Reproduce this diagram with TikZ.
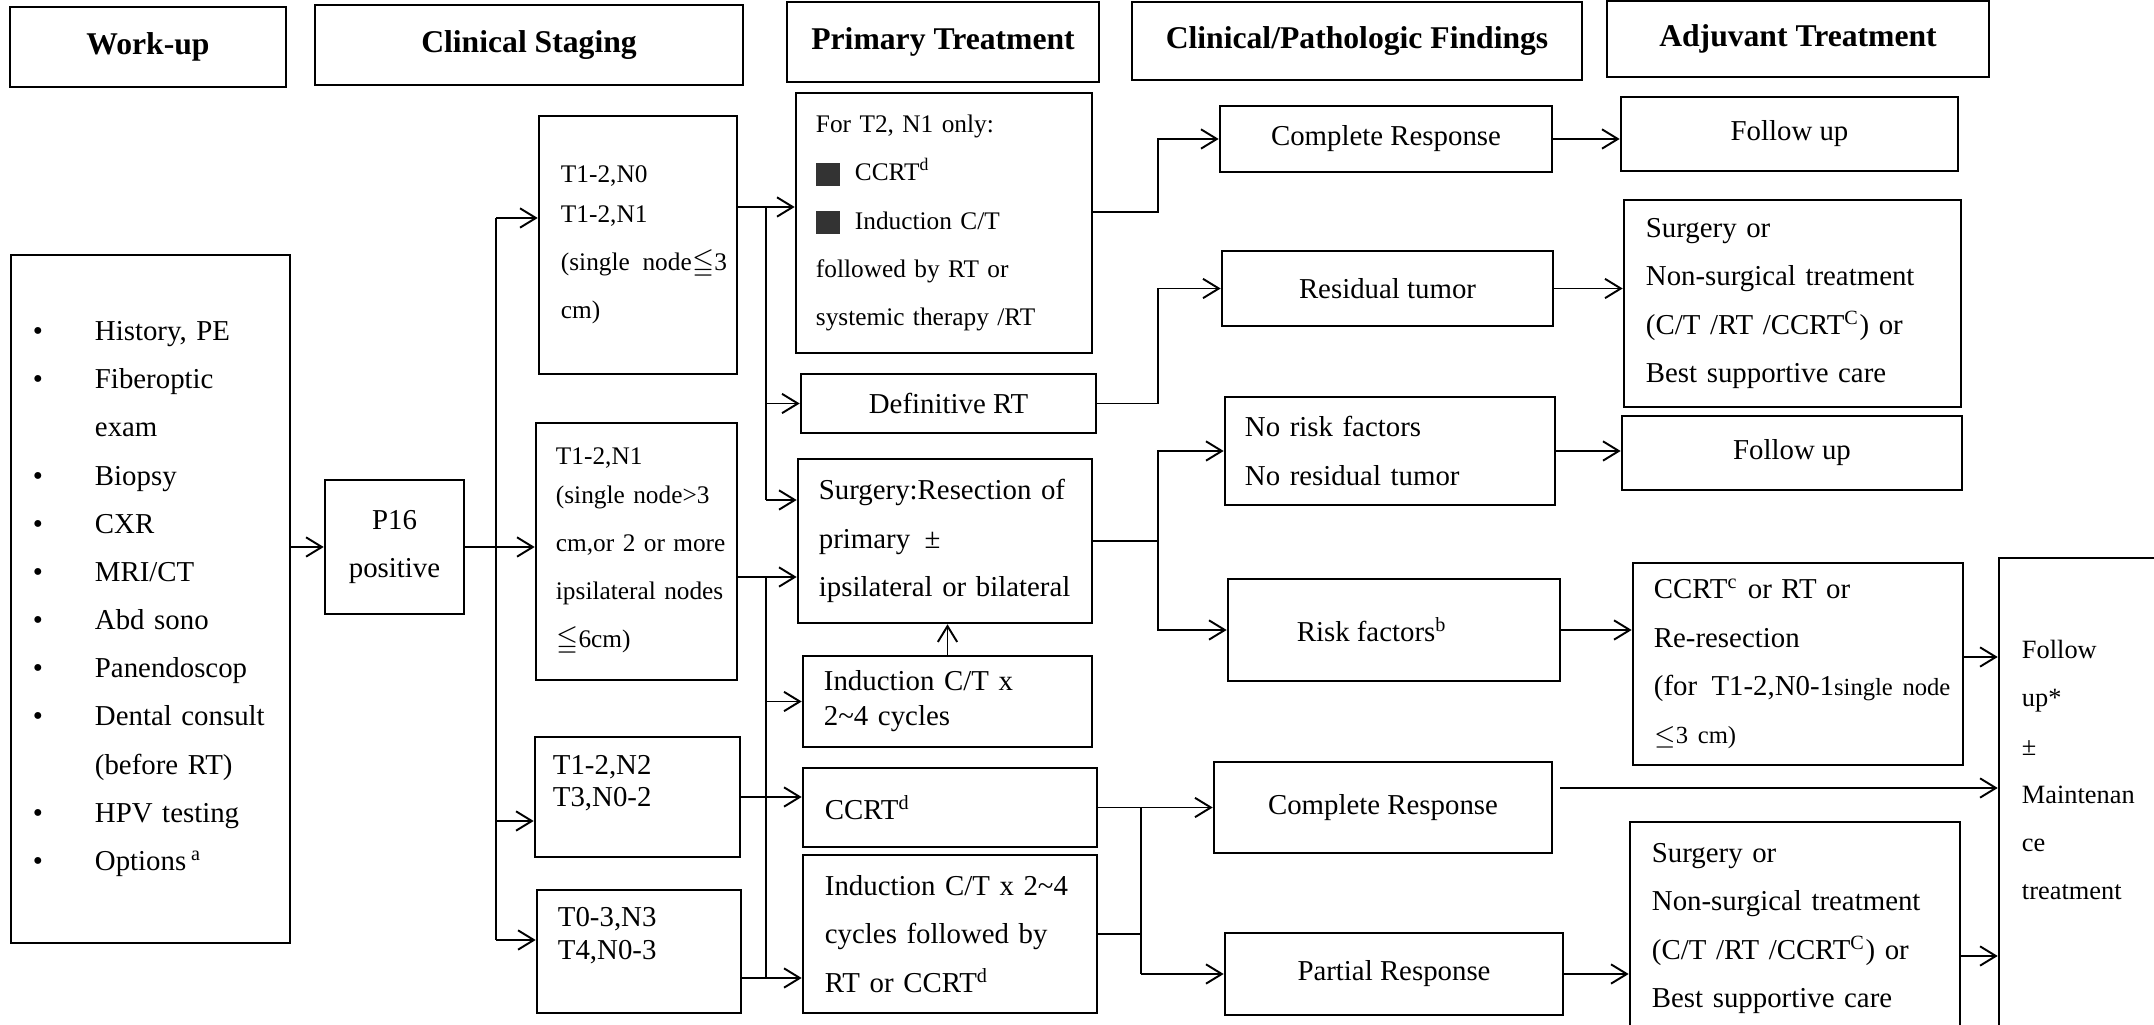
\documentclass[tikz,border=0pt]{standalone}
\usepackage{amssymb}
\usepackage{fontspec}
\setmainfont{Liberation Serif}
\usetikzlibrary{arrows.meta}
\newcommand\fbody{\fontsize{8.2}{13.7}\selectfont}
\newcommand\fsml{\fontsize{7.2}{13.7}\selectfont}
\newcommand\fhead{\fontsize{9}{11}\selectfont\bfseries}
\newcommand\bitem{\makebox[0.62cm][l]{\textbullet}}
\newcommand\sqbox{\makebox[0.39cm][l]{\textcolor{black!80}{\rule[-1.4pt]{0.24cm}{0.23cm}}}}
\newcommand\tld{\textasciitilde}
\tikzset{
  box/.style={draw, line width=0.7pt, inner sep=0pt, font=\fbody},
  hbox/.style={box, font=\fhead, align=center},
  lbox/.style={box, align=left},
  arr/.style={-{Straight Barb[length=4.5pt,width=5.5pt]}},
}
\begin{document}
\begin{tikzpicture}[x=0.01cm, y=-0.01cm, line width=0.55pt]
\useasboundingbox (0,0) rectangle (2154,1025);
\fill[white] (0,0) rectangle (2154,1025);
\clip (0,0) rectangle (2154,1025);

\node[hbox, minimum width=2.76cm, minimum height=0.80cm] (hWork) at (148,47) {Work-up};
\node[hbox, minimum width=4.28cm, minimum height=0.80cm] (hStage) at (529,45) {Clinical Staging};
\node[hbox, minimum width=3.12cm, minimum height=0.80cm] (hPrim) at (943,42) {Primary Treatment};
\node[hbox, minimum width=4.50cm, minimum height=0.78cm] (hFind) at (1357,41) {Clinical/Pathologic Findings};
\node[hbox, minimum width=3.82cm, minimum height=0.76cm] (hAdj) at (1798,39) {Adjuvant Treatment};

\node[lbox, text width=2.35cm, minimum width=2.79cm, minimum height=6.88cm] (wu) at (150.5,599)
  {\bitem History, PE\\ \bitem Fiberoptic\\ \hspace*{0.62cm}exam\\ \bitem Biopsy\\ \bitem CXR\\ \bitem MRI/CT\\
   \bitem Abd sono\\ \bitem Panendoscop\\ \bitem Dental consult\\ \hspace*{0.62cm}(before RT)\\ \bitem HPV testing\\
   \bitem Options\,\textsuperscript{a}};
\node[box, align=center, minimum width=1.39cm, minimum height=1.34cm] (p16) at (394.5,547) {P16\\positive};

\node[lbox, font=\fsml, text width=1.54cm, minimum width=1.98cm, minimum height=2.58cm] (st1) at (638,245)
  {T1-2,N0\\[-2.3pt] T1-2,N1\\ \mbox{(single\enspace node$\leqq$3}\\ cm)};
\node[lbox, font=\fsml, text width=1.61cm, minimum width=2.01cm, minimum height=2.57cm] (st2) at (636.5,551.5)
  {T1-2,N1\\[-2.6pt] \makebox[\hsize][s]{(single\ node>3}\\ \makebox[\hsize][s]{cm,or 2 or more}\\
   \makebox[\hsize][s]{ipsilateral nodes}\\ $\leqq$6cm)};
\node[lbox, text width=1.69cm, minimum width=2.05cm, minimum height=1.20cm] (st3) at (637.5,797)
  {T1-2,N2\\[-4.5pt] T3,N0-2\\[-4.5pt]\mbox{}};
\node[lbox, text width=1.62cm, minimum width=2.04cm, minimum height=1.23cm] (st4) at (639,951.5)
  {T0-3,N3\\[-4.5pt] T4,N0-3\\[-3.5pt]\mbox{}};

\node[lbox, font=\fsml, text width=2.56cm, minimum width=2.96cm, minimum height=2.60cm] (pt1) at (944,223)
  {For T2, N1 only:\\ \sqbox CCRT\textsuperscript{d}\\ \sqbox Induction C/T\\ followed by RT or\\ systemic therapy /RT};
\node[box, minimum width=2.95cm, minimum height=0.59cm] (pt2) at (948.5,403.5) {Definitive RT};
\node[lbox, text width=2.52cm, minimum width=2.94cm, minimum height=1.64cm] (pt3) at (945,541)
  {Surgery:Resection of\\ primary\enspace ±\\ ipsilateral or bilateral};
\node[lbox, text width=2.47cm, minimum width=2.89cm, minimum height=0.91cm] (pt4) at (947.5,701.5)
  {Induction C/T x\\[-3.7pt] 2\tld4 cycles};
\node[lbox, text width=2.50cm, minimum width=2.94cm, minimum height=0.79cm] (pt5) at (950,807.5) {CCRT\textsuperscript{d}};
\node[lbox, text width=2.50cm, minimum width=2.94cm, minimum height=1.58cm] (pt6) at (950,934)
  {Induction C/T x 2\tld4\\ cycles followed by\\ RT or CCRT\textsuperscript{d}};

\node[box, minimum width=3.32cm, minimum height=0.66cm] (fd1) at (1386,139) {Complete Response};
\node[box, minimum width=3.31cm, minimum height=0.75cm] (fd2) at (1387.5,288.5) {Residual tumor};
\node[lbox, text width=2.90cm, minimum width=3.30cm, minimum height=1.08cm] (fd3) at (1390,451)
  {No risk factors\\ No residual tumor};
\node[box, minimum width=3.32cm, minimum height=1.02cm] (fd4) at (1394,630) {Risk factors\textsuperscript{b}\hspace*{0.44cm}};
\node[box, minimum width=3.38cm, minimum height=0.91cm] (fd5) at (1383,807.5) {Complete Response};
\node[box, minimum width=3.38cm, minimum height=0.82cm] (fd6) at (1394,974) {Partial Response};

\node[box, minimum width=3.37cm, minimum height=0.74cm] (ad1) at (1789.5,134) {Follow up};
\node[lbox, text width=2.93cm, minimum width=3.37cm, minimum height=2.07cm] (ad2) at (1792.5,303.5)
  {Surgery or\\ Non-surgical treatment\\ (C/T /RT /CCRT\textsuperscript{C}) or\\ Best supportive care};
\node[box, minimum width=3.40cm, minimum height=0.74cm] (ad3) at (1792,453) {Follow up};
\node[lbox, text width=2.88cm, minimum width=3.30cm, minimum height=2.02cm] (ad4) at (1798,664)
  {CCRT\textsuperscript{c} or RT or\\ Re-resection\\
   \mbox{(for\enspace T1-2,N0-1{\fontsize{7}{13.7}\selectfont single node}}\\ {\fontsize{7}{13.7}\selectfont $\leq$3 cm)}};
\node[lbox, text width=2.86cm, minimum width=3.30cm, minimum height=2.13cm] (ad5) at (1795,928.5)
  {Surgery or\\ Non-surgical treatment\\ (C/T /RT /CCRT\textsuperscript{C}) or\\ Best supportive care};
\node[lbox, font=\fontsize{7.5}{13.7}\selectfont, text width=1.25cm, minimum width=1.71cm, minimum height=4.82cm] (ad6) at (2084.5,799)
  {Follow\\ up*\\ ±\\ Maintenan\\ ce\\ treatment\\[2.8pt]\mbox{}};

\coordinate (tA) at (496,218);
\coordinate (tB) at (496,940);
\coordinate (tC) at (496,821);
\draw (tA) -- (tB);
\draw[arr] (tA) -- (tA -| st1.west);
\draw[arr] (wu.east |- p16.west) -- (p16.west);
\draw[arr] (p16.east) -- (p16.east -| st2.west);
\draw[arr] (tC) -- (tC -| st3.west);
\draw[arr] (tB) -- (tB -| st4.west);

\coordinate (uA) at (766,207);
\coordinate (uB) at (766,500);
\draw[arr] (st1.east |- uA) -- (uA -| pt1.west);
\draw (uA) -- (uB);
\draw[arr] (uA |- pt2.west) -- (pt2.west);
\draw[arr] (uB) -- (uB -| pt3.west);

\coordinate (vA) at (766,577);
\coordinate (vB) at (766,978);
\draw[arr] (st2.east |- vA) -- (vA -| pt3.west);
\draw (vA) -- (vB);
\draw[arr] (vA |- pt4.west) -- (pt4.west);
\draw[arr] (st4.east |- vB) -- (vB -| pt6.west);
\draw[arr] (st3.east) -- (st3.east -| pt5.west);
\draw[arr] (pt4.north) -- (pt4.north |- pt3.south);

\coordinate (xA) at (1158,212);
\draw[arr] (pt1.east |- xA) -- (xA) |- (fd1.west);
\draw[arr] (pt2.east) -- (pt2.east -| xA) |- (fd2.west);
\draw (pt3.east) -- (pt3.east -| xA);
\draw[arr] (pt3.east -| xA) |- (fd3.west);
\draw[arr] (pt3.east -| xA) |- (fd4.west);

\coordinate (yA) at (1141,0);
\draw (pt5.east) -- (pt5.east -| yA);
\draw (pt6.east) -- (pt6.east -| yA);
\draw (yA |- fd5.west) -- (yA |- fd6.west);
\draw[arr] (yA |- fd5.west) -- (fd5.west);
\draw[arr] (yA |- fd6.west) -- (fd6.west);

\draw[arr] (fd1.east) -- (fd1.east -| ad1.west);
\draw[arr] (fd2.east) -- (fd2.east -| ad2.west);
\draw[arr] (fd3.east) -- (fd3.east -| ad3.west);
\draw[arr] (fd4.east) -- (fd4.east -| ad4.west);
\coordinate (zA) at (1560,788);
\draw[arr] (zA) -- (zA -| ad6.west);
\draw[arr] (fd6.east) -- (fd6.east -| ad5.west);
\coordinate (zB) at (1963,657);
\draw[arr] (ad4.east |- zB) -- (zB -| ad6.west);
\coordinate (zC) at (1962,956);
\draw[arr] (ad5.east |- zC) -- (zC -| ad6.west);
\end{tikzpicture}
\end{document}
